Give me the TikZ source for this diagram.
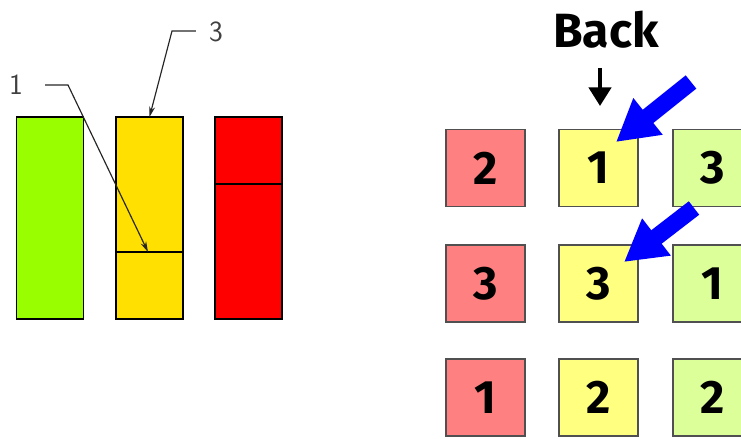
\documentclass[tikz,border=0pt]{standalone}
\usepackage{fontspec}
\newfontfamily\tilefont{Fira Sans}
\usetikzlibrary{arrows.meta}

\begin{document}
\begin{tikzpicture}[x=0.03cm, y=-0.03cm,
    bar/.style={draw=black, line width=1.3pt, minimum width=67*0.03cm, minimum height=202*0.03cm, inner sep=0pt, outer sep=0pt},
    tile/.style={draw=tileBorder, line width=1.4pt, minimum width=79*0.03cm, minimum height=77*0.03cm, inner sep=0pt, font=\tilefont\bfseries\fontsize{40}{40}\selectfont},
    callout/.style={inner sep=0pt, text=black!75, font=\sffamily\fontsize{25}{25}\selectfont},
    leader/.style={draw=black!85, line width=1pt, -{Stealth[length=9pt, width=5pt]}},
    bluearrow/.style={draw=blue, line width=14.5pt, -{Triangle[length=35pt, width=37.5pt]}, blue}]

    \definecolor{barGreen}{HTML}{99FF00}
    \definecolor{barYellow}{HTML}{FFE000}
    \definecolor{barRed}{HTML}{FF0000}
    \definecolor{tileRed}{HTML}{FF8080}
    \definecolor{tileYellow}{HTML}{FFFF80}
    \definecolor{tileGreen}{HTML}{DDFF99}
    \definecolor{tileBorder}{HTML}{505050}

    \useasboundingbox (0,0) rectangle (741,438);

    % Draw bars
    \node[bar, fill=barGreen] (greenBar) at (50,218) {};
    \node[bar, fill=barYellow] (yellowBar) at (149.5,218) {};
    \node[bar, fill=barRed] (redBar) at (248.5,218) {};
    \draw[line width=1.3pt] (yellowBar.west |- 0,252) -- (yellowBar.east |- 0,252);
    \draw[line width=1.3pt] (redBar.west |- 0,184) -- (redBar.east |- 0,184);
    \coordinate (dividerTip) at (148,252);

    % Callouts
    \node[callout] (lblThree) at (216,32) {3};
    \node[callout] (lblOne) at (16,85) {1};
    \draw[leader] (lblThree.west) ++(-13,-1) -- (172,31) -- (yellowBar.north);
    \draw[leader] (lblOne.east) ++(22,0) -- (68,85) -- (dividerTip);

    % Tiles
    \foreach \r/\y/\a/\b/\c in {1/168/2/1/3, 2/283.5/3/3/1, 3/397.5/1/2/2} {
        \node[tile, fill=tileRed] (t\r1) at (485.5,\y) {\a};
        \node[tile, fill=tileYellow] (t\r2) at (598.5,\y) {\b};
        \node[tile, fill=tileGreen] (t\r3) at (712.5,\y) {\c};
    }

    % Back label
    \node[inner sep=0pt, font=\tilefont\bfseries\fontsize{41}{41}\selectfont] (backLabel) at (606,30) {Back};
    \coordinate (backTip) at (600,106);
    \draw[line width=3.5pt, -{Triangle[length=16pt, width=19pt]}] (backLabel.south -| backTip) ++(0,19) -- (backTip);

    % Blue arrows
    \coordinate (tipOne) at (616,142);
    \coordinate (tipTwo) at (624,262);
    \draw[bluearrow] (691,82) -- (tipOne);
    \draw[bluearrow] (694,208) -- (tipTwo);

\end{tikzpicture}
\end{document}
